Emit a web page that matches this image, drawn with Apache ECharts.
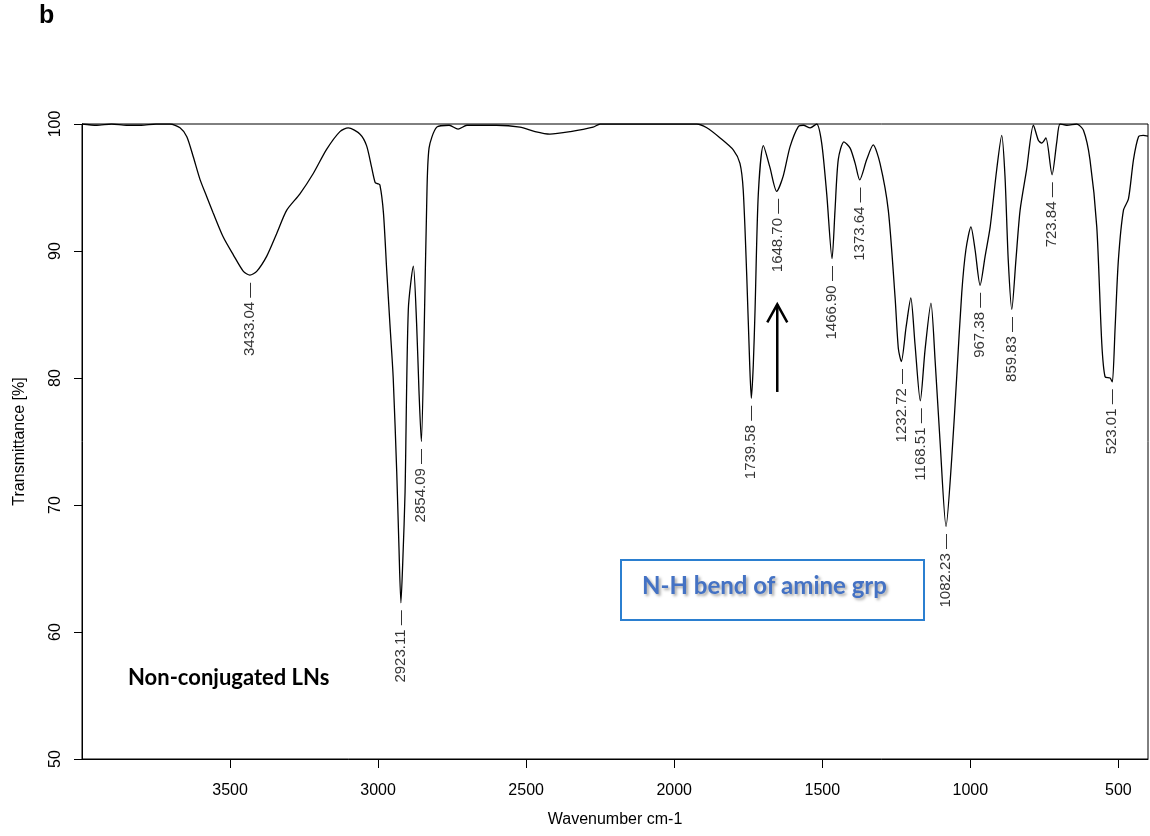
<!DOCTYPE html>
<html>
<head>
<meta charset="utf-8">
<script src="https://cdn.jsdelivr.net/npm/echarts@6/dist/echarts.min.js"></script>
<style>
  html, body { margin: 0; padding: 0; background: #fff; }
  #chart { width: 1150px; height: 836px; }
</style>
</head>
<body>
<div id="chart"></div>
<script>
// spectrum (wavenumber cm-1 / transmittance %)
var wavenumber = [
  4000, 3950, 3900, 3850, 3800, 3750, 3703, 3669, 3646, 3624, 3601, 3579, 3557, 3523, 3489, 3455,
  3433, 3410, 3376, 3342, 3309, 3264, 3219, 3174, 3129, 3101, 3061, 3039, 3022, 3010, 3002, 2994,
  2982, 2971, 2960, 2949, 2937, 2930, 2923, 2916, 2909, 2898, 2881, 2870, 2862, 2854, 2845, 2836,
  2828, 2802, 2760, 2730, 2700, 2600, 2521, 2470, 2420, 2350, 2274, 2250, 2100, 1924, 1890, 1845,
  1800, 1778, 1767, 1755, 1745, 1739.6, 1733, 1727, 1716, 1699, 1677, 1654, 1632, 1609, 1581, 1564,
  1541, 1519, 1502, 1485, 1467, 1457, 1446, 1427, 1406, 1389, 1373.6, 1350, 1328, 1305, 1277, 1254,
  1243, 1233, 1217, 1201, 1187, 1169, 1153, 1133, 1119, 1102, 1082, 1063, 1046, 1029, 1015, 998,
  984, 967, 950, 933, 911, 894, 883, 872, 860, 846, 832, 810, 787, 770, 759, 745,
  724, 708, 697, 674, 641, 618, 596, 573, 556, 545, 528, 523, 520, 511, 500, 483,
  466, 449, 432, 416, 400
];
var transmittance = [
  100, 99.9, 100, 99.9, 99.9, 100, 100, 99.7, 99.0, 97.4, 95.6, 94.3, 93.0, 91.1, 89.7, 88.4,
  88.1, 88.4, 89.6, 91.4, 93.2, 94.5, 96.1, 98.0, 99.4, 99.7, 99.2, 98.3, 96.6, 95.4, 95.3, 95.2,
  93.0, 88.5, 84.2, 80.0, 72.5, 67.0, 62.3, 66.0, 71.0, 85.4, 88.8, 84.3, 79.0, 75.0, 83.0, 93.6,
  98.1, 99.75, 99.9, 99.6, 99.9, 99.9, 99.75, 99.4, 99.2, 99.4, 99.75, 100, 100, 100, 99.7, 98.9,
  97.95, 96.9, 94.8, 88.0, 81.0, 78.4, 81.0, 85.4, 94.5, 98.3, 96.6, 94.7, 95.9, 98.2, 99.8, 99.9,
  99.7, 100, 98.5, 94.5, 89.4, 93.2, 97.2, 98.6, 98.1, 96.9, 95.6, 97.2, 98.35, 96.9, 93.2, 86.3,
  82.3, 81.3, 84.0, 86.3, 82.7, 78.2, 82.2, 85.9, 81.4, 74.9, 68.3, 73.6, 80.1, 86.7, 90.1, 91.9,
  90.1, 87.3, 89.6, 91.9, 96.4, 99.1, 95.9, 89.3, 85.4, 89.3, 93.2, 96.4, 99.9, 98.7, 98.5, 98.9,
  96.0, 98.6, 100, 99.9, 100, 99.5, 97.2, 91.9, 82.7, 80.1, 80.0, 79.8, 79.7, 84.0, 89.3, 93.2,
  94.1, 97.2, 99.0, 99.1, 99.05
];

// labelled band minima
var peakWavenumber = [3433.04, 2923.11, 2854.09, 1739.58, 1648.70, 1466.90, 1373.64, 1232.72, 1168.51, 1082.23, 967.38, 859.83, 723.84, 523.01];
var peakTransmittance = [88.1, 62.3, 75.0, 78.4, 94.7, 89.4, 95.6, 81.3, 78.2, 68.3, 87.3, 85.4, 96.0, 79.7];
var peakLabels = ['3433.04', '2923.11', '2854.09', '1739.58', '1648.70', '1466.90', '1373.64', '1232.72', '1168.51', '1082.23', '967.38', '859.83', '723.84', '523.01'];

var xTicks = [3500, 3000, 2500, 2000, 1500, 1000, 500];
var yTicks = [50, 60, 70, 80, 90, 100];

// arrow pointing at the N-H band (data coords)
var arrowX = 1652;
var arrowFrom = 78.9;
var arrowTo = 85.8;

var fontAxis = '"Liberation Sans", Arial, sans-serif';

var chart = echarts.init(document.getElementById('chart'));

var spectrum = wavenumber.map(function(w, i){ return [w, transmittance[i]]; });
var peaks = peakWavenumber.map(function(w, i){ return [w, peakTransmittance[i]]; });

var option = {
  animation: false,
  backgroundColor: '#fff',
  grid: {
    left: 82,
    right: 2,
    top: 124,
    bottom: 77,
    show: true,
    borderColor: '#000',
    borderWidth: 1
  },
  xAxis: {
    type: 'value',
    inverse: true,
    min: 400,
    max: 4000,
    name: 'Wavenumber cm-1',
    nameLocation: 'middle',
    nameGap: 53,
    nameTextStyle: { color: '#000', fontSize: 16, fontFamily: fontAxis },
    axisLine: { show: true, onZero: false, lineStyle: { color: '#000', width: 1 } },
    axisTick: { show: true, length: 9, customValues: xTicks, lineStyle: { color: '#000' } },
    axisLabel: {
      customValues: xTicks, margin: 24, fontSize: 16, color: '#000', fontFamily: fontAxis,
      formatter: function(v){ return String(v); }
    },
    splitLine: { show: false }
  },
  yAxis: {
    type: 'value',
    min: 50,
    max: 100,
    interval: 10,
    name: 'Transmittance [%]',
    nameLocation: 'middle',
    nameRotate: 90,
    nameGap: 54,
    nameTextStyle: { color: '#000', fontSize: 16, fontFamily: fontAxis },
    axisLine: { show: true, lineStyle: { color: '#000', width: 1 } },
    axisTick: { show: true, length: 8, lineStyle: { color: '#000' } },
    axisLabel: { rotate: 90, margin: 18, fontSize: 16, color: '#000', fontFamily: fontAxis, customValues: yTicks },
    splitLine: { show: false }
  },
  graphic: [
    {
      id: 'panel', type: 'text', left: 39, top: 4,
      style: { text: 'b', fill: '#000', font: 'bold 25px "Liberation Sans", Arial, sans-serif' }
    },
    {
      id: 'sample', type: 'text', left: 128, top: 667,
      style: { text: 'Non-conjugated LNs', fill: '#000', font: 'bold 22px Lato, "Open Sans", sans-serif' }
    },
    {
      id: 'box', type: 'rect', shape: { x: 621, y: 560, width: 303, height: 60 },
      style: { fill: '#fff', stroke: '#2b7fd0', lineWidth: 2 }
    },
    {
      id: 'boxText', type: 'text', left: 642, top: 574,
      style: {
        text: 'N-H bend of amine grp', fill: '#4472c4',
        font: 'bold 24px Lato, "Open Sans", sans-serif',
        textShadowColor: 'rgba(0,0,0,0.35)', textShadowBlur: 3,
        textShadowOffsetX: 2, textShadowOffsetY: 2
      }
    }
  ],
  series: [
    {
      name: 'spectrum',
      type: 'line',
      data: spectrum,
      symbol: 'none',
      smooth: 0.25,
      lineStyle: { color: '#000', width: 1.3 },
      z: 3
    },
    {
      name: 'peaks',
      type: 'scatter',
      data: peaks,
      symbolSize: 1,
      itemStyle: { color: 'rgba(0,0,0,0)' },
      label: {
        show: true,
        position: 'bottom',
        distance: 7,
        rotate: 90,
        align: 'right',
        verticalAlign: 'middle',
        fontSize: 15,
        color: '#000',
        fontFamily: fontAxis,
        formatter: function(p){ return peakLabels[p.dataIndex] + ' \u2014'; }
      },
      z: 4
    }
  ]
};
chart.setOption(option);

// arrow drawn from data coordinates
var pFrom = chart.convertToPixel({ gridIndex: 0 }, [arrowX, arrowFrom]);
var pTo = chart.convertToPixel({ gridIndex: 0 }, [arrowX, arrowTo]);
chart.setOption({
  graphic: [
    {
      id: 'arrowShaft', type: 'line',
      shape: { x1: pFrom[0], y1: pFrom[1], x2: pTo[0], y2: pTo[1] },
      style: { stroke: '#000', lineWidth: 2.5 }
    },
    {
      id: 'arrowHead', type: 'polyline',
      shape: { points: [[pTo[0] - 10, pTo[1] + 18], [pTo[0], pTo[1]], [pTo[0] + 10, pTo[1] + 18]] },
      style: { stroke: '#000', lineWidth: 2.5, fill: null }
    }
  ]
});

window.addEventListener('resize', function(){ chart.resize(); });
</script>
</body>
</html>
